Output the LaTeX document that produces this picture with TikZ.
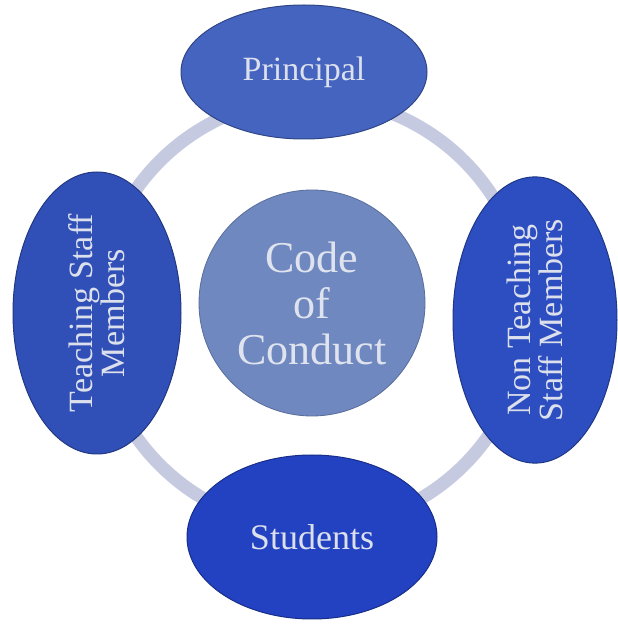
\documentclass[tikz,border=0pt]{standalone}
\usepackage{fontspec}
\setmainfont{Liberation Serif}
\usetikzlibrary{shapes.geometric}
\definecolor{ringc}{HTML}{C6CAE0}
\definecolor{principalc}{HTML}{4464C0}
\definecolor{teachc}{HTML}{3050B8}
\definecolor{nonteachc}{HTML}{2C4EC0}
\definecolor{studc}{HTML}{2242C2}
\definecolor{codec}{HTML}{7088C0}
\definecolor{txtc}{HTML}{DCE0EC}
\tikzset{
  x=1pt,y=1pt,
  oval/.style={ellipse, inner sep=0pt, draw=#1!70!black, line width=1pt, fill=#1,
    text=txtc, align=center, font=\fontsize{34}{32}\selectfont},
  hub/.style={circle, inner sep=0pt, minimum size=226pt, draw=codec!80!black, line width=0.8pt,
    fill=codec, text=txtc!90!white, align=center, font=\fontsize{44}{46}\selectfont},
  ring/.style={draw=ringc, line width=13pt}
}
\begin{document}
\begin{tikzpicture}
\useasboundingbox (0,0) rectangle (618,625);
\fill[white] (0,0) rectangle (618,625);
\coordinate (rc) at (312,312);
\draw[ring] (rc) circle (215);
\node[hub] (code) at (312,322) {Code\\of\\Conduct};
\node[oval=principalc, minimum width=246pt, minimum height=134pt] (principal) at (304,553) {Principal};
\node[oval=teachc, minimum width=282pt, minimum height=168pt, rotate=90] (teach) at (97,312) {Teaching Staff\\Members};
\node[oval=nonteachc, minimum width=282pt, minimum height=164pt, rotate=90] (nonteach) at (535,305) {Non Teaching\\Staff Members};
\node[oval=studc, minimum width=250pt, minimum height=164pt, font=\fontsize{36}{38}\selectfont] (stud) at (312,88) {Students};
\end{tikzpicture}
\end{document}
